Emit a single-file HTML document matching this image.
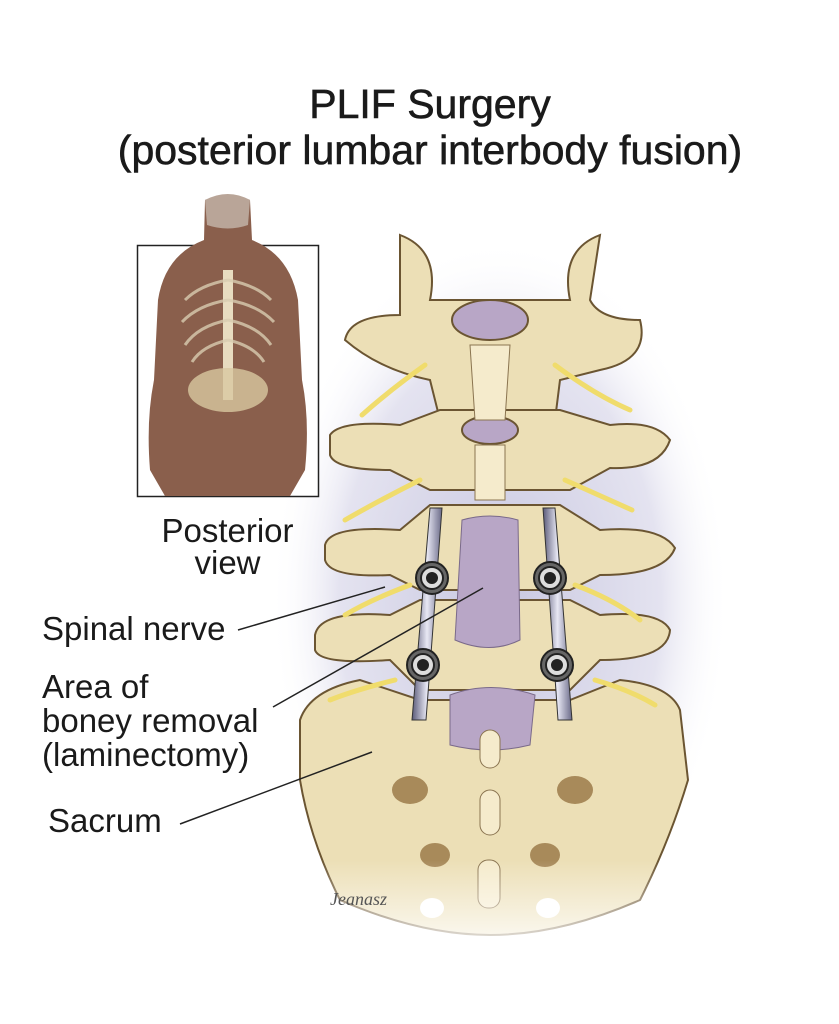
<!DOCTYPE html>
<html><head><meta charset="utf-8"><style>
html,body{margin:0;padding:0;background:#fff}
body{width:839px;height:1024px;overflow:hidden;position:relative;font-family:"Liberation Sans",sans-serif}
.t{position:absolute;color:#1a1a1a;white-space:nowrap}
</style></head><body>
<svg width="839" height="1024" style="position:absolute;left:0;top:0">
<defs>
<radialGradient id="glow" cx="0.5" cy="0.5" r="0.5">
<stop offset="0" stop-color="#c9c8e0"/><stop offset="0.7" stop-color="#e4e3f0"/><stop offset="1" stop-color="#fff" stop-opacity="0"/></radialGradient>
<linearGradient id="fade" x1="0" y1="0" x2="0" y2="1"><stop offset="0" stop-color="#fff" stop-opacity="0"/><stop offset="1" stop-color="#fff"/></linearGradient>
<linearGradient id="rod" x1="0" x2="1"><stop offset="0" stop-color="#5a5a78"/><stop offset="0.5" stop-color="#e8e8f4"/><stop offset="1" stop-color="#6a6a88"/></linearGradient>
</defs>
<ellipse cx="500" cy="600" rx="230" ry="360" fill="url(#glow)"/>
<!-- inset -->
<rect x="137.5" y="245.5" width="181" height="251" fill="#fff" stroke="#222" stroke-width="1.5"/>
<path d="M205,200 Q228,190 250,200 L252,240 Q290,255 298,300 L302,380 Q310,420 305,470 L290,496 L165,496 L150,470 Q146,420 154,380 L158,300 Q165,255 204,240 Z" fill="#8a5f4c"/>
<path d="M205,200 Q228,188 250,200 L248,225 Q228,232 207,225Z" fill="#b9a598"/>
<path d="M228,270 L228,400" stroke="#e8dcc0" stroke-width="10"/>
<g stroke="#d9ccb0" stroke-width="3" fill="none" opacity="0.8">
<path d="M228,280 Q200,285 185,300"/><path d="M228,280 Q256,285 271,300"/>
<path d="M228,300 Q198,305 182,322"/><path d="M228,300 Q258,305 274,322"/>
<path d="M228,320 Q198,326 185,345"/><path d="M228,320 Q258,326 271,345"/>
<path d="M228,340 Q202,346 192,362"/><path d="M228,340 Q254,346 264,362"/>
</g>
<ellipse cx="228" cy="390" rx="40" ry="22" fill="#d8c8a0" opacity="0.8"/>
<!-- spine -->
<g stroke="#6b5532" stroke-width="2" fill="#ecdfb6">
<path d="M400,235 Q440,250 430,300 L570,300 Q560,250 600,235 L590,300 Q600,320 640,320 Q650,360 600,370 L560,380 L555,420 L440,420 L430,380 Q380,370 345,340 Q350,315 400,315Z"/>
<ellipse cx="490" cy="320" rx="38" ry="20" fill="#b8a6c6"/>
<path d="M330,435 Q340,420 400,425 L440,410 L560,410 L610,425 Q655,420 670,440 Q660,470 610,468 L570,490 L430,490 L390,470 Q335,470 330,455Z"/>
<ellipse cx="490" cy="430" rx="28" ry="14" fill="#b8a6c6"/>
<path d="M325,545 Q330,525 400,530 L430,505 L560,505 L600,530 Q660,525 675,548 Q665,575 600,575 L570,590 L420,590 L390,575 Q330,578 325,560Z"/>
<path d="M315,635 Q320,610 390,615 L420,600 L570,600 L600,615 Q660,610 670,630 Q668,660 600,660 L570,690 L420,690 L390,660 Q320,665 315,650Z"/>
<path d="M300,720 Q310,690 360,680 L420,700 L570,700 L620,680 Q670,685 680,710 L688,780 Q670,840 640,900 Q560,935 490,935 Q420,935 340,900 Q310,840 300,780Z"/>
</g>
<path d="M462,520 Q490,512 518,520 L520,640 Q490,655 455,640Z" fill="#b8a6c6" stroke="#7a6a8a"/>
<path d="M450,695 Q490,680 535,695 L530,745 Q490,755 450,745Z" fill="#b8a6c6" stroke="#7a6a8a"/>
<path d="M470,345 L510,345 L505,420 L475,420Z M475,445 L505,445 L505,500 L475,500Z" fill="#f5ebcc" stroke="#8a7450"/>
<rect x="480" y="730" width="20" height="38" rx="10" fill="#f5ebcc" stroke="#8a7450"/>
<rect x="480" y="790" width="20" height="45" rx="10" fill="#f5ebcc" stroke="#8a7450"/>
<rect x="478" y="860" width="22" height="48" rx="10" fill="#f5ebcc" stroke="#8a7450"/>
<g fill="#a88a5a"><ellipse cx="410" cy="790" rx="18" ry="14"/><ellipse cx="575" cy="790" rx="18" ry="14"/><ellipse cx="435" cy="855" rx="15" ry="12"/><ellipse cx="545" cy="855" rx="15" ry="12"/></g>
<g fill="#fff"><ellipse cx="432" cy="908" rx="12" ry="10"/><ellipse cx="548" cy="908" rx="12" ry="10"/></g>
<g stroke="#f0dc6c" stroke-width="5" fill="none" stroke-linecap="round">
<path d="M425,365 Q390,390 362,415"/><path d="M555,365 Q595,395 630,410"/>
<path d="M420,480 Q380,500 345,520"/><path d="M565,480 Q610,500 632,510"/>
<path d="M410,585 Q370,600 345,615"/><path d="M575,585 Q615,600 640,620"/>
<path d="M395,680 Q355,690 330,700"/><path d="M595,680 Q630,690 655,705"/>
</g>
<g stroke="#333" stroke-width="1">
<path d="M430,508 L442,508 L426,720 L412,720Z" fill="url(#rod)"/>
<path d="M543,508 L555,508 L572,720 L558,720Z" fill="url(#rod)"/>
</g>
<g stroke="#222" stroke-width="2">
<g transform="translate(432,578)"><circle r="16" fill="#666"/><circle r="11" fill="#ddd"/><circle r="5" fill="#222"/></g>
<g transform="translate(550,578)"><circle r="16" fill="#666"/><circle r="11" fill="#ddd"/><circle r="5" fill="#222"/></g>
<g transform="translate(423,665)"><circle r="16" fill="#666"/><circle r="11" fill="#ddd"/><circle r="5" fill="#222"/></g>
<g transform="translate(557,665)"><circle r="16" fill="#666"/><circle r="11" fill="#ddd"/><circle r="5" fill="#222"/></g>
</g>
<rect x="290" y="860" width="410" height="100" fill="url(#fade)"/>
<text x="330" y="905" font-family="Liberation Serif" font-style="italic" font-size="18" fill="#555">Jeanasz</text>
<g stroke="#222" stroke-width="1.5">
<line x1="238" y1="630" x2="385" y2="587"/>
<line x1="273" y1="707" x2="483" y2="588"/>
<line x1="180" y1="824" x2="372" y2="752"/>
</g>
</svg>
<div class="t" style="left:0;width:860px;text-align:center;top:81px;font-size:41px;line-height:46px;-webkit-text-stroke:0.6px #1a1a1a">PLIF Surgery<br>(posterior lumbar interbody fusion)</div>
<div class="t" style="left:140px;width:175px;text-align:center;top:515px;font-size:33px;line-height:32px">Posterior<br>view</div>
<div class="t" style="left:42px;top:610px;font-size:33px">Spinal nerve</div>
<div class="t" style="left:42px;top:670px;font-size:33px;line-height:34px">Area of<br>boney removal<br>(laminectomy)</div>
<div class="t" style="left:48px;top:802px;font-size:33px">Sacrum</div>
</body></html>
